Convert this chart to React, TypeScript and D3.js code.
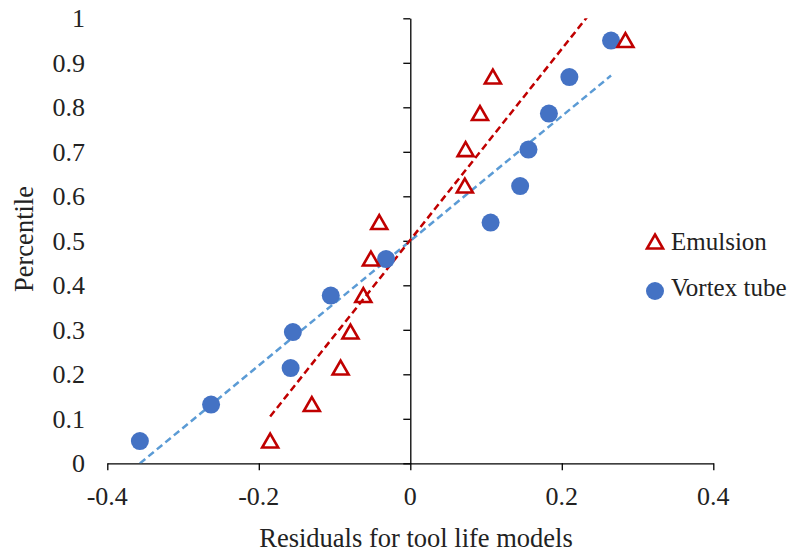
import React, { useEffect, useRef } from 'react';
import * as d3 from 'd3';

// Residuals (x) and their plotting percentiles (y)
const percentiles = [0.05, 0.132, 0.214, 0.295, 0.377, 0.459, 0.541, 0.623, 0.705, 0.786, 0.868, 0.95];
const emulsionResiduals = [-0.185, -0.13, -0.092, -0.079, -0.062, -0.052, -0.041, 0.072, 0.073, 0.092, 0.109, 0.284];
const vortexResiduals = [-0.357, -0.263, -0.158, -0.155, -0.105, -0.032, 0.106, 0.145, 0.156, 0.183, 0.21, 0.265];

// Linear trend lines (percentile = intercept + slope * residual)
const emulsionTrend = { slope: 2.146, intercept: 0.502 };
const vortexTrend = { slope: 1.401, intercept: 0.5 };

const xTicks = [-0.4, -0.2, 0, 0.2, 0.4];
const yTicks = [0, 0.1, 0.2, 0.3, 0.4, 0.5, 0.6, 0.7, 0.8, 0.9, 1];

const RED = '#C00000';
const BLUE = '#4472C4';
const BLUE_LINE = '#5B9BD5';
const FONT = 'Liberation Serif';

const App = () => {
  const svgRef = useRef<SVGSVGElement>(null);

  useEffect(() => {
    if (!svgRef.current) return;
    const svg = d3.select(svgRef.current);
    svg.selectAll('*').remove();

    const x = d3.scaleLinear().domain([-0.4, 0.4]).range([107.3, 713.3]);
    const y = d3.scaleLinear().domain([0, 1]).range([463.3, 18.3]);

    // clip for trend lines
    svg.append('defs').append('clipPath').attr('id', 'plot-clip')
      .append('rect')
      .attr('x', x(-0.4)).attr('y', y(1))
      .attr('width', x(0.4) - x(-0.4)).attr('height', y(0) - y(1));

    // Y axis sits on x = 0
    svg.append('g')
      .attr('transform', `translate(${x(0)},0)`)
      .call(d3.axisLeft(y).tickValues(yTicks).tickSize(7).tickSizeOuter(0).tickFormat(() => ''))
      .call(g => g.selectAll('path, line').attr('stroke', '#000').attr('stroke-width', 1.3));

    // X axis sits on y = 0
    svg.append('g')
      .attr('transform', `translate(0,${y(0)})`)
      .call(d3.axisBottom(x).tickValues(xTicks).tickSize(7).tickSizeOuter(0).tickFormat(() => ''))
      .call(g => g.selectAll('path, line').attr('stroke', '#000').attr('stroke-width', 1.3));

    const fmt = (d: number) => (d === 0 ? '0' : String(+d.toFixed(1)));

    const label = (sel: any, size: number) =>
      sel.attr('font-family', FONT).attr('font-size', size).attr('fill', '#222');

    svg.append('g').selectAll('text')
      .data(yTicks)
      .enter().append('text')
      .attr('x', 85)
      .attr('y', d => y(d))
      .attr('dy', '0.35em')
      .attr('text-anchor', 'end')
      .call(label, 26)
      .text(fmt);

    svg.append('g').selectAll('text')
      .data(xTicks)
      .enter().append('text')
      .attr('x', d => x(d))
      .attr('y', 505)
      .attr('text-anchor', 'middle')
      .call(label, 26)
      .text(fmt);

    // Axis titles
    svg.append('text')
      .attr('x', 416)
      .attr('y', 547)
      .attr('text-anchor', 'middle')
      .call(label, 26.5)
      .text('Residuals for tool life models');

    svg.append('text')
      .attr('transform', 'translate(33,239) rotate(-90)')
      .attr('text-anchor', 'middle')
      .call(label, 26.5)
      .text('Percentile');

    // Trend lines
    const trend = (residuals: number[], t: { slope: number; intercept: number }) => {
      const ext = d3.extent(residuals) as [number, number];
      return ext.map(r => [r, t.intercept + t.slope * r] as [number, number]);
    };
    const line = d3.line<[number, number]>().x(d => x(d[0])).y(d => y(d[1]));

    const lines = svg.append('g').attr('clip-path', 'url(#plot-clip)');
    lines.append('path')
      .attr('d', line(trend(vortexResiduals, vortexTrend)))
      .attr('fill', 'none')
      .attr('stroke', BLUE_LINE)
      .attr('stroke-width', 2.5)
      .attr('stroke-dasharray', '7,4');
    lines.append('path')
      .attr('d', line(trend(emulsionResiduals, emulsionTrend)))
      .attr('fill', 'none')
      .attr('stroke', RED)
      .attr('stroke-width', 2.5)
      .attr('stroke-dasharray', '7,4');

    const triangle = 'M0,-7.5L8,6.5L-8,6.5Z';

    // Vortex tube points
    svg.append('g').selectAll('circle')
      .data(vortexResiduals)
      .enter().append('circle')
      .attr('cx', d => x(d))
      .attr('cy', (d, i) => y(percentiles[i]))
      .attr('r', 9)
      .attr('fill', BLUE);

    // Emulsion points
    svg.append('g').selectAll('path')
      .data(emulsionResiduals)
      .enter().append('path')
      .attr('transform', (d, i) => `translate(${x(d)},${y(percentiles[i])})`)
      .attr('d', triangle)
      .attr('fill', 'none')
      .attr('stroke', RED)
      .attr('stroke-width', 2.6);

    // Legend
    const legend = svg.append('g');
    legend.append('path')
      .attr('transform', 'translate(655,242)')
      .attr('d', triangle)
      .attr('fill', 'none')
      .attr('stroke', RED)
      .attr('stroke-width', 2.6);
    legend.append('text')
      .attr('x', 671)
      .attr('y', 250)
      .call(label, 25)
      .text('Emulsion');
    legend.append('circle')
      .attr('cx', 655).attr('cy', 291).attr('r', 9)
      .attr('fill', BLUE);
    legend.append('text')
      .attr('x', 671)
      .attr('y', 296)
      .call(label, 25)
      .text('Vortex tube');
  }, []);

  return (
    <svg
      ref={svgRef}
      width={799}
      height={552}
      style={{ position: 'absolute', left: 0, top: 0, background: '#fff' }}
    />
  );
};

export default App;
